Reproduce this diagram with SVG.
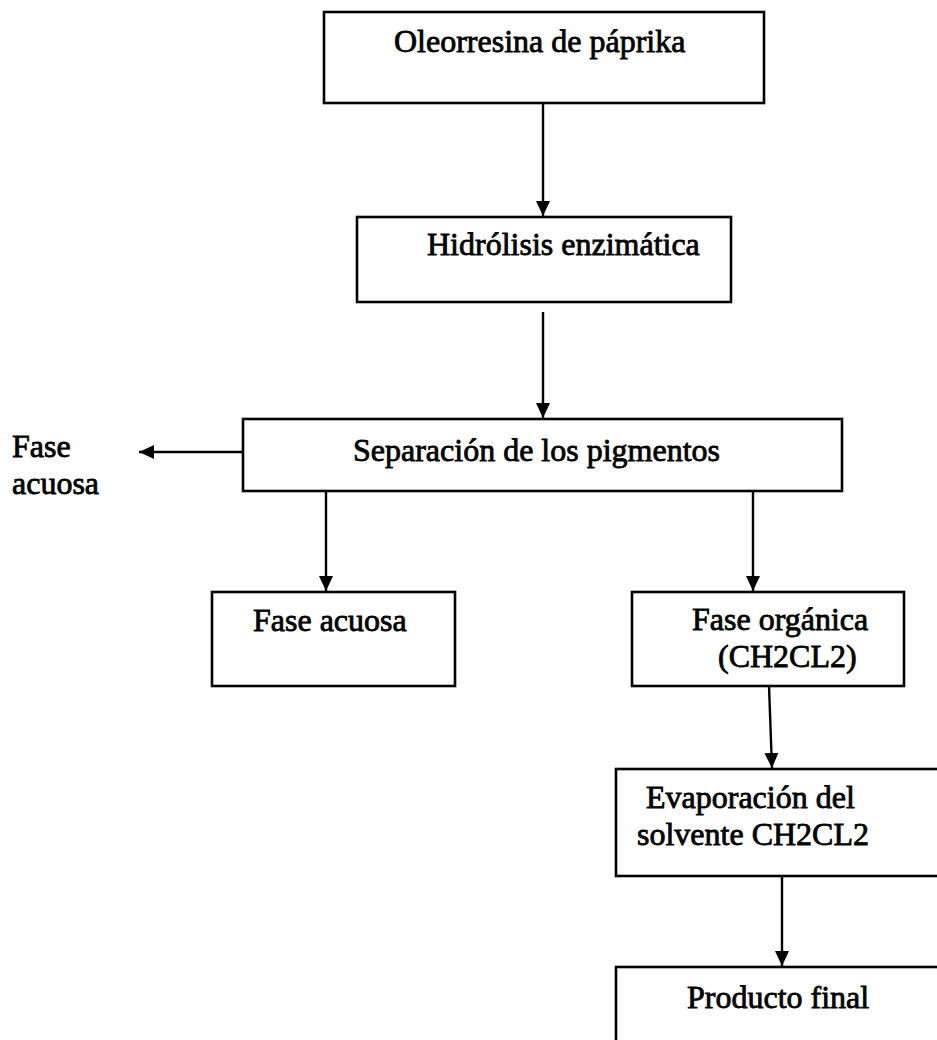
<svg xmlns="http://www.w3.org/2000/svg" width="937" height="1040" viewBox="0 0 937 1040">
<style>
.box{fill:#fff;stroke:#000;stroke-width:2.6}
.lbl{font-family:"Liberation Serif","Times New Roman",serif;font-size:32px;fill:#000;stroke:#000;stroke-width:0.8}
.con{stroke:#000;stroke-width:2.4;fill:none;marker-end:url(#ah)}
</style>
<defs>
<marker id="ah" markerUnits="userSpaceOnUse" markerWidth="16" markerHeight="16" refX="15" refY="8" orient="auto">
<path d="M0,1 L15,8 L0,15 z" fill="#000"/>
</marker>
</defs>
<rect width="937" height="1040" fill="#fff"/>
<g id="n1"><rect class="box" x="324" y="12" width="440" height="91"/><text class="lbl" x="394" y="52">Oleorresina de páprika</text></g>
<g id="n2"><rect class="box" x="357" y="217" width="374" height="85"/><text class="lbl" x="427" y="255">Hidrólisis enzimática</text></g>
<g id="n3"><rect class="box" x="243" y="419" width="599" height="72"/><text class="lbl" x="353" y="461">Separación de los pigmentos</text></g>
<g id="n4"><text class="lbl" x="12" y="457">Fase</text><text class="lbl" x="12" y="494">acuosa</text></g>
<g id="n5"><rect class="box" x="212" y="592" width="243" height="94"/><text class="lbl" x="253" y="631">Fase acuosa</text></g>
<g id="n6"><rect class="box" x="632" y="592" width="272" height="94"/><text class="lbl" x="692" y="630">Fase orgánica</text><text class="lbl" x="718" y="667">(CH2CL2)</text></g>
<g id="n7"><rect class="box" x="616" y="769" width="340" height="107"/><text class="lbl" x="646" y="808">Evaporación del</text><text class="lbl" x="637" y="845">solvente CH2CL2</text></g>
<g id="n8"><rect class="box" x="616" y="967" width="340" height="100"/><text class="lbl" x="687" y="1008">Producto final</text></g>
<g id="connectors">
<line class="con" x1="543" y1="103" x2="543" y2="216"/>
<line class="con" x1="543" y1="312" x2="543" y2="418"/>
<line class="con" x1="243" y1="452" x2="139" y2="452"/>
<line class="con" x1="326" y1="491" x2="326" y2="591"/>
<line class="con" x1="753" y1="491" x2="753" y2="591"/>
<line class="con" x1="769" y1="686" x2="772" y2="768"/>
<line class="con" x1="782" y1="876" x2="782" y2="966"/>
</g>
</svg>
